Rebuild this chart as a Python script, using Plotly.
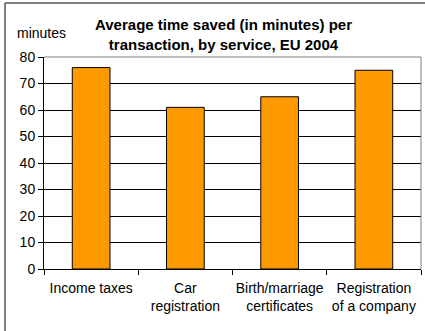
import plotly.graph_objects as go

# Average time saved per transaction, by service (EU 2004)
services = ["Income taxes", "Car<br>registration", "Birth/marriage<br>certificates",
            "Registration<br>of a company"]
minutes_saved = [76, 61, 65, 75]
y_ticks = [0, 10, 20, 30, 40, 50, 60, 70, 80]

FONT = "Liberation Sans, Arial, sans-serif"
W, H = 425, 331
L, R, T, B = 44, 4, 57, 62

fig = go.Figure(go.Bar(
    x=services,
    y=minutes_saved,
    marker=dict(color="#FF9900", line=dict(color="#000000", width=1)),
    hoverinfo="skip",
))

pw = W - L - R
ph = H - T - B

def px_x(px):
    return (px - L) / pw

def px_y(py):
    return (H - B - py) / ph

frame = dict(color="#555555", width=1.5)

fig.update_layout(
    width=W, height=H,
    margin=dict(l=L, r=R, t=T, b=B, pad=0, autoexpand=False),
    paper_bgcolor="white",
    plot_bgcolor="white",
    bargap=0.6,
    showlegend=False,
    font=dict(family=FONT, size=14, color="#000000"),
    xaxis=dict(
        type="category",
        tickson="boundaries",
        tickangle=0,
        automargin=False,
        ticks="outside", ticklen=5, tickcolor="#000000", tickwidth=1,
        ticklabelstandoff=6,
        showline=True, linecolor="#000000", linewidth=1,
        showgrid=False,
        tickfont=dict(family=FONT, size=14),
        fixedrange=True,
    ),
    yaxis=dict(
        range=[0, 80],
        tickvals=y_ticks,
        automargin=False,
        ticks="outside", ticklen=5, tickcolor="#000000", tickwidth=1,
        showline=True, linecolor="#000000", linewidth=1,
        showgrid=True, gridcolor="#000000", gridwidth=1,
        zeroline=False,
        tickfont=dict(family=FONT, size=14),
        fixedrange=True,
    ),
    annotations=[
        dict(text="<b>Average time saved (in minutes) per<br>transaction, by service, EU 2004</b>",
             xref="paper", yref="paper", x=px_x(223), y=px_y(34),
             xanchor="center", yanchor="middle", showarrow=False,
             font=dict(family=FONT, size=15)),
        dict(text="minutes", xref="paper", yref="paper",
             x=px_x(15), y=px_y(33), xanchor="left", yanchor="middle",
             showarrow=False, font=dict(family=FONT, size=14)),
    ],
    shapes=[
        # outer chart frame (left and top edges fall inside the page)
        dict(type="line", xref="paper", yref="paper",
             x0=px_x(5), x1=px_x(5), y0=px_y(331), y1=px_y(3),
             line=frame, layer="below"),
        dict(type="line", xref="paper", yref="paper",
             x0=px_x(5), x1=px_x(425), y0=px_y(3), y1=px_y(3),
             line=frame, layer="below"),
        # plot area border (top and right)
        dict(type="line", xref="paper", yref="paper", x0=0, x1=1, y0=1, y1=1,
             line=dict(color="#808080", width=1)),
        dict(type="line", xref="paper", yref="paper", x0=1, x1=1, y0=0, y1=1,
             line=dict(color="#808080", width=1)),
    ],
)

fig.write_html("out.html")
